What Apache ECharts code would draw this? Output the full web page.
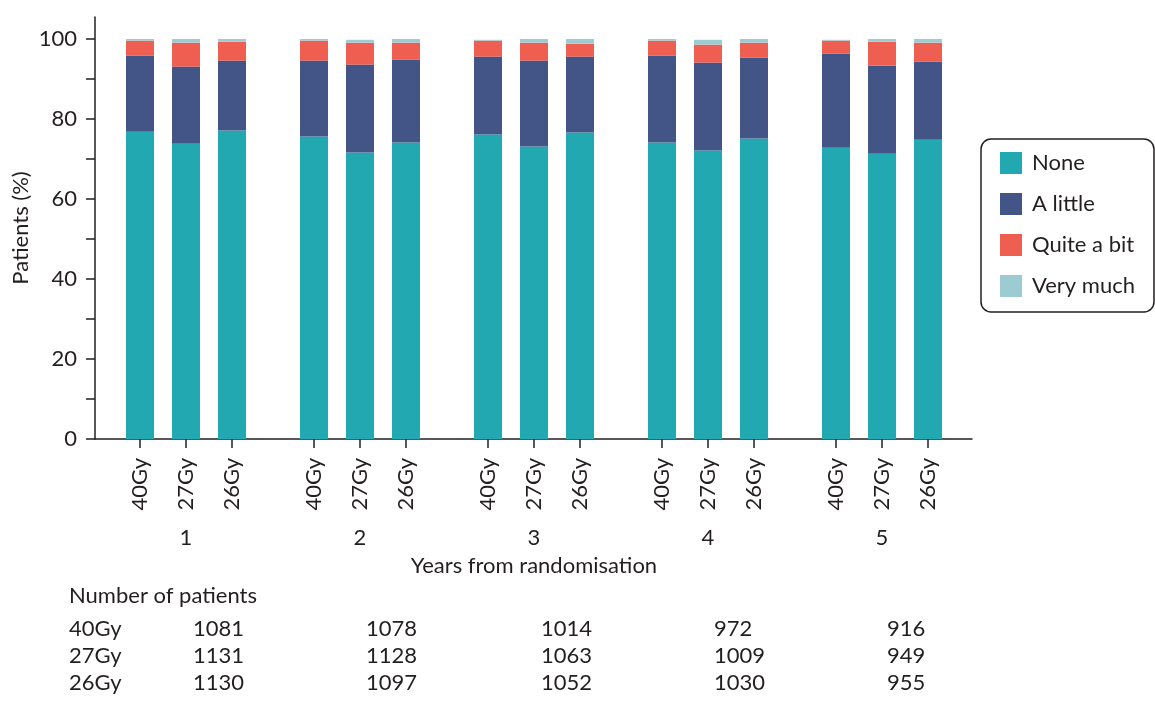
<!DOCTYPE html>
<html>
<head>
<meta charset="utf-8">
<script src="https://cdn.jsdelivr.net/npm/echarts@6/dist/echarts.min.js"></script>
<style>
  html, body { margin: 0; padding: 0; background: #fff; }
  #main { width: 1155px; height: 707px; }
</style>
</head>
<body>
<div id="main"></div>
<script>
// categories
var years = ['1', '2', '3', '4', '5'];
var doses = ['40Gy', '27Gy', '26Gy'];
var responses = ['None', 'A little', 'Quite a bit', 'Very much'];

// percentages per response, one row per dose (40Gy, 27Gy, 26Gy), one value per year
var none = [
    [76.8, 75.6, 76.1, 74.1, 72.8],
    [73.8, 71.6, 73.1, 72.1, 71.3],
    [77.1, 74.1, 76.6, 75.1, 74.8]
];
var aLittle = [
    [19.0, 19.0, 19.5, 21.7, 23.5],
    [19.3, 22.0, 21.5, 22.0, 22.0],
    [17.5, 20.7, 19.0, 20.2, 19.5]
];
var quiteABit = [
    [3.8, 5.0, 4.0, 3.8, 3.3],
    [6.0, 5.5, 4.5, 4.5, 6.0],
    [4.7, 4.3, 3.2, 3.8, 4.8]
];
var veryMuch = [
    [0.4, 0.4, 0.2, 0.4, 0.2],
    [0.9, 0.7, 0.9, 1.2, 0.7],
    [0.7, 0.9, 1.2, 0.9, 0.9]
];

// number of patients table
var n40 = [1081, 1078, 1014, 972, 916];
var n27 = [1131, 1128, 1063, 1009, 949];
var n26 = [1130, 1097, 1052, 1030, 955];

var yTicks = [0, 10, 20, 30, 40, 50, 60, 70, 80, 90, 100];
var yLabels = [0, 20, 40, 60, 80, 100];

var colors = ['#22A8B0', '#435586', '#EE5F51', '#9CCCD2'];
var ink = '#231F20';
var font = 'Lato';
var fs = 22;

var chart = echarts.init(document.getElementById('main'));

var responseData = [none, aLittle, quiteABit, veryMuch];

// grid 0 holds the visible y axis and x axis line; grids 1-3 hold the bars of each dose
var grids = [
    {left: 95, right: 183, top: 17, bottom: 268},
    {left: 53, right: 232, top: 17, bottom: 268},
    {left: 99, right: 186, top: 17, bottom: 268},
    {left: 145, right: 140, top: 17, bottom: 268}
];
grids.forEach(function (g) { g.outerBoundsMode = 'none'; });

var xAxes = [{
    gridIndex: 0,
    type: 'category',
    data: [''],
    axisLine: {lineStyle: {color: ink, width: 1.5}},
    axisTick: {show: false},
    axisLabel: {show: false}
}];
var yAxes = [{
    gridIndex: 0,
    type: 'value',
    min: 0,
    max: 105.5,
    splitLine: {show: false},
    axisLine: {show: true, lineStyle: {color: ink, width: 1.5}},
    axisTick: {show: true, length: 9, customValues: yTicks, lineStyle: {color: ink, width: 1.5}},
    axisLabel: {customValues: yLabels, margin: 18, color: ink, fontSize: fs, fontFamily: font},
    name: 'Patients (%)',
    nameLocation: 'middle',
    nameGap: 63,
    nameMoveOverlap: false,
    nameTextStyle: {color: ink, fontSize: fs, fontFamily: font}
}];

var series = [];
doses.forEach(function (dose, d) {
    xAxes.push({
        gridIndex: d + 1,
        type: 'category',
        data: years,
        axisLine: {show: false},
        axisTick: {show: true, alignWithLabel: true, length: 9, lineStyle: {color: ink, width: 1.5}},
        axisLabel: {
            rotate: 90,
            margin: 19,
            color: ink,
            fontSize: fs,
            fontFamily: font,
            formatter: function () { return dose; }
        }
    });
    yAxes.push({
        gridIndex: d + 1,
        type: 'value',
        min: 0,
        max: 105.5,
        show: false
    });
    responses.forEach(function (name, r) {
        series.push({
            type: 'bar',
            name: name,
            stack: 'dose' + d,
            xAxisIndex: d + 1,
            yAxisIndex: d + 1,
            barWidth: 28,
            itemStyle: {color: colors[r]},
            data: responseData[r][d]
        });
    });
});

// year labels under the middle (27Gy) grid
xAxes.push({
    gridIndex: 2,
    type: 'category',
    position: 'bottom',
    data: years,
    axisLine: {show: false},
    axisTick: {show: false},
    axisLabel: {margin: 88, color: ink, fontSize: fs, fontFamily: font},
    name: 'Years from randomisation',
    nameLocation: 'middle',
    nameGap: 116,
    nameMoveOverlap: false,
    nameTextStyle: {color: ink, fontSize: fs, fontFamily: font}
});

// table of patient numbers
var tableRows = [n40, n27, n26];
var colX = [193, 366, 541, 714, 887];
var rowY = [629, 656, 683];
var graphics = [{
    type: 'text', x: 69, y: 596,
    style: {text: 'Number of patients', font: fs + 'px ' + font, fill: ink, verticalAlign: 'middle'}
}];
tableRows.forEach(function (row, i) {
    graphics.push({
        type: 'text', x: 69, y: rowY[i],
        style: {text: doses[i], font: fs + 'px ' + font, fill: ink, verticalAlign: 'middle'}
    });
    row.forEach(function (v, j) {
        graphics.push({
            type: 'text', x: colX[j], y: rowY[i],
            style: {text: String(v), font: fs + 'px ' + font, fill: ink, verticalAlign: 'middle'}
        });
    });
});

var option = {
    backgroundColor: '#fff',
    animation: false,
    grid: grids,
    xAxis: xAxes,
    yAxis: yAxes,
    legend: {
        data: responses,
        orient: 'vertical',
        left: 981,
        top: 139,
        padding: [13, 19, 15, 19],
        itemWidth: 22,
        itemHeight: 22,
        itemGap: 19,
        icon: 'rect',
        borderColor: ink,
        borderWidth: 1.5,
        borderRadius: 10,
        textStyle: {color: ink, fontSize: fs, fontFamily: font, lineHeight: 22, padding: [0, 0, 0, 5]}
    },
    graphic: graphics,
    series: series
};
chart.setOption(option);
</script>
</body>
</html>
